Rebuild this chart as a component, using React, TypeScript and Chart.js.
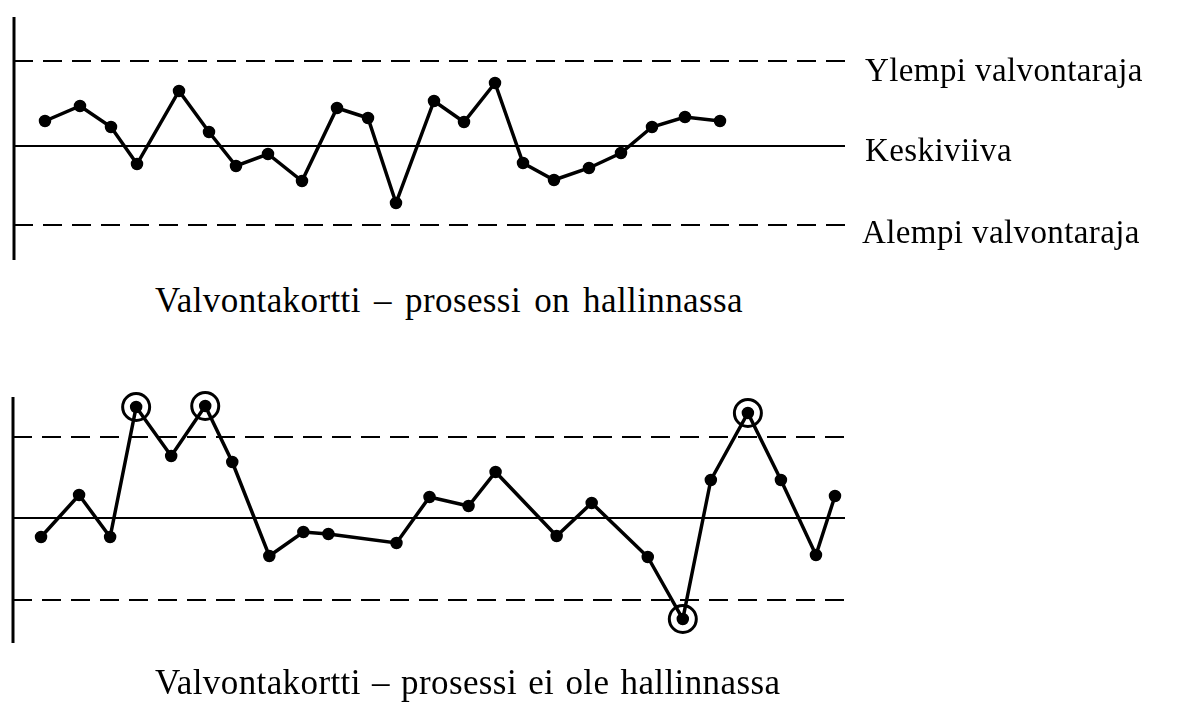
import React, { useEffect, useRef } from "react";
import { Chart, registerables } from "chart.js";

Chart.register(...registerables);

// ---- Chart 1: process in control ----
const times1 = [3.1, 6.6, 9.7, 12.3, 16.5, 19.5, 22.2, 25.4, 28.8, 32.3, 35.4, 38.2, 42.0, 45.0, 48.1, 50.9, 54.0, 57.5, 60.7, 63.8, 67.1, 70.6];
const values1 = [2.5, 4.0, 1.9, -1.8, 5.5, 1.4, -2.0, -0.8, -3.5, 3.8, 2.8, -5.7, 4.5, 2.4, 6.3, -1.7, -3.4, -2.2, -0.7, 1.9, 2.9, 2.5];
const limits1 = { ucl: 8.5, cl: 0, lcl: -7.9 };
const yRange1 = { min: -11.4, max: 12.9 };

// ---- Chart 2: process out of control ----
const times2 = [2.8, 6.6, 9.7, 12.3, 15.8, 19.2, 21.9, 25.6, 29.0, 31.5, 38.3, 41.6, 45.5, 48.2, 54.3, 57.8, 63.4, 66.9, 69.7, 73.4, 76.7, 80.2, 82.1];
const values2 = [-1.9, 2.3, -1.9, 11.1, 6.2, 11.2, 5.6, -3.8, -1.4, -1.6, -2.5, 2.1, 1.2, 4.6, -1.8, 1.5, -3.9, -10.1, 3.8, 10.5, 3.8, -3.7, 2.2];
const outOfControl2 = [3, 5, 17, 19]; // indexes of circled points
const limits2 = { ucl: 8.1, cl: 0, lcl: -8.2 };
const yRange2 = { min: -12.5, max: 12.1 };

const xMax = 83.1;

const limitLabels = ["Ylempi valvontaraja", "Keskiviiva", "Alempi valvontaraja"];
const caption1 = "Valvontakortti – prosessi on hallinnassa";
const caption2 = "Valvontakortti – prosessi ei ole hallinnassa";

const FONT = '"Liberation Serif", "DejaVu Serif", serif';

const axisLinePlugin = {
  id: "axisLine",
  afterDraw(chart: any) {
    const { ctx, chartArea } = chart;
    ctx.save();
    ctx.strokeStyle = "#000";
    ctx.lineWidth = 3;
    ctx.beginPath();
    ctx.moveTo(chartArea.left, chartArea.top);
    ctx.lineTo(chartArea.left, chartArea.bottom);
    ctx.stroke();
    ctx.restore();
  },
};

function buildConfig(
  times: number[],
  values: number[],
  limits: { ucl: number; cl: number; lcl: number },
  yRange: { min: number; max: number },
  padding: { left: number; top: number; right: number; bottom: number },
  circled: number[]
) {
  const refLine = (y: number, dashed: boolean) => ({
    type: "line",
    data: [
      { x: 0, y },
      { x: xMax, y },
    ],
    borderColor: "#000",
    borderWidth: dashed ? 2.2 : 2,
    borderDash: dashed ? [19, 10] : [],
    pointRadius: 0,
    clip: false,
  });
  const datasets: any[] = [
    refLine(limits.ucl, true),
    refLine(limits.cl, false),
    refLine(limits.lcl, true),
    {
      type: "line",
      data: times.map((t, i) => ({ x: t, y: values[i] })),
      borderColor: "#000",
      borderWidth: 3.5,
      pointRadius: 5.5,
      pointBackgroundColor: "#000",
      pointBorderColor: "#000",
      pointBorderWidth: 1.5,
      tension: 0,
      clip: false,
    },
  ];
  if (circled.length) {
    datasets.push({
      type: "scatter",
      data: circled.map((i) => ({ x: times[i], y: values[i] })),
      showLine: false,
      pointRadius: 13.5,
      pointBackgroundColor: "rgba(0,0,0,0)",
      pointBorderColor: "#000",
      pointBorderWidth: 3,
      clip: false,
    });
  }
  return {
    type: "line",
    data: { datasets },
    options: {
      animation: false,
      responsive: false,
      maintainAspectRatio: false,
      layout: { padding, autoPadding: false },
      plugins: {
        legend: { display: false },
        tooltip: { enabled: false },
        title: { display: false },
      },
      scales: {
        x: { type: "linear", min: 0, max: xMax, display: false },
        y: { type: "linear", min: yRange.min, max: yRange.max, display: false },
      },
    },
    plugins: [axisLinePlugin],
  };
}

function ChartCanvas(props: { top: number; height: number; config: any }) {
  const ref = useRef<HTMLCanvasElement | null>(null);
  useEffect(() => {
    if (!ref.current) return;
    const chart = new Chart(ref.current, props.config);
    return () => chart.destroy();
  }, []);
  return (
    <canvas
      ref={ref}
      width={1197}
      height={props.height}
      style={{ position: "absolute", left: 0, top: props.top, width: 1197, height: props.height }}
    />
  );
}

const textStyle = (left: number, top: number, size: number): React.CSSProperties => ({
  position: "absolute",
  left,
  top,
  fontFamily: FONT,
  fontSize: size,
  lineHeight: `${size}px`,
  color: "#000",
  whiteSpace: "pre",
  letterSpacing: "0.4px",
});

export default function App() {
  const config1 = buildConfig(times1, values1, limits1, yRange1, { left: 14, top: 17, right: 352, bottom: 20 }, []);
  const config2 = buildConfig(times2, values2, limits2, yRange2, { left: 13, top: 17, right: 352, bottom: 27 }, outOfControl2);
  return (
    <div style={{ position: "absolute", left: 0, top: 0, width: 1197, height: 713, background: "#fff", overflow: "hidden" }}>
      <ChartCanvas top={0} height={280} config={config1} />
      <ChartCanvas top={380} height={290} config={config2} />
      <div style={textStyle(865, 54, 33)}>{limitLabels[0]}</div>
      <div style={textStyle(865, 134, 33)}>{limitLabels[1]}</div>
      <div style={textStyle(862, 216, 33)}>{limitLabels[2]}</div>
      <div style={{ ...textStyle(155, 283, 35), wordSpacing: "4px" }}>{caption1}</div>
      <div style={{ ...textStyle(155, 665, 35), wordSpacing: "2px" }}>{caption2}</div>
    </div>
  );
}
